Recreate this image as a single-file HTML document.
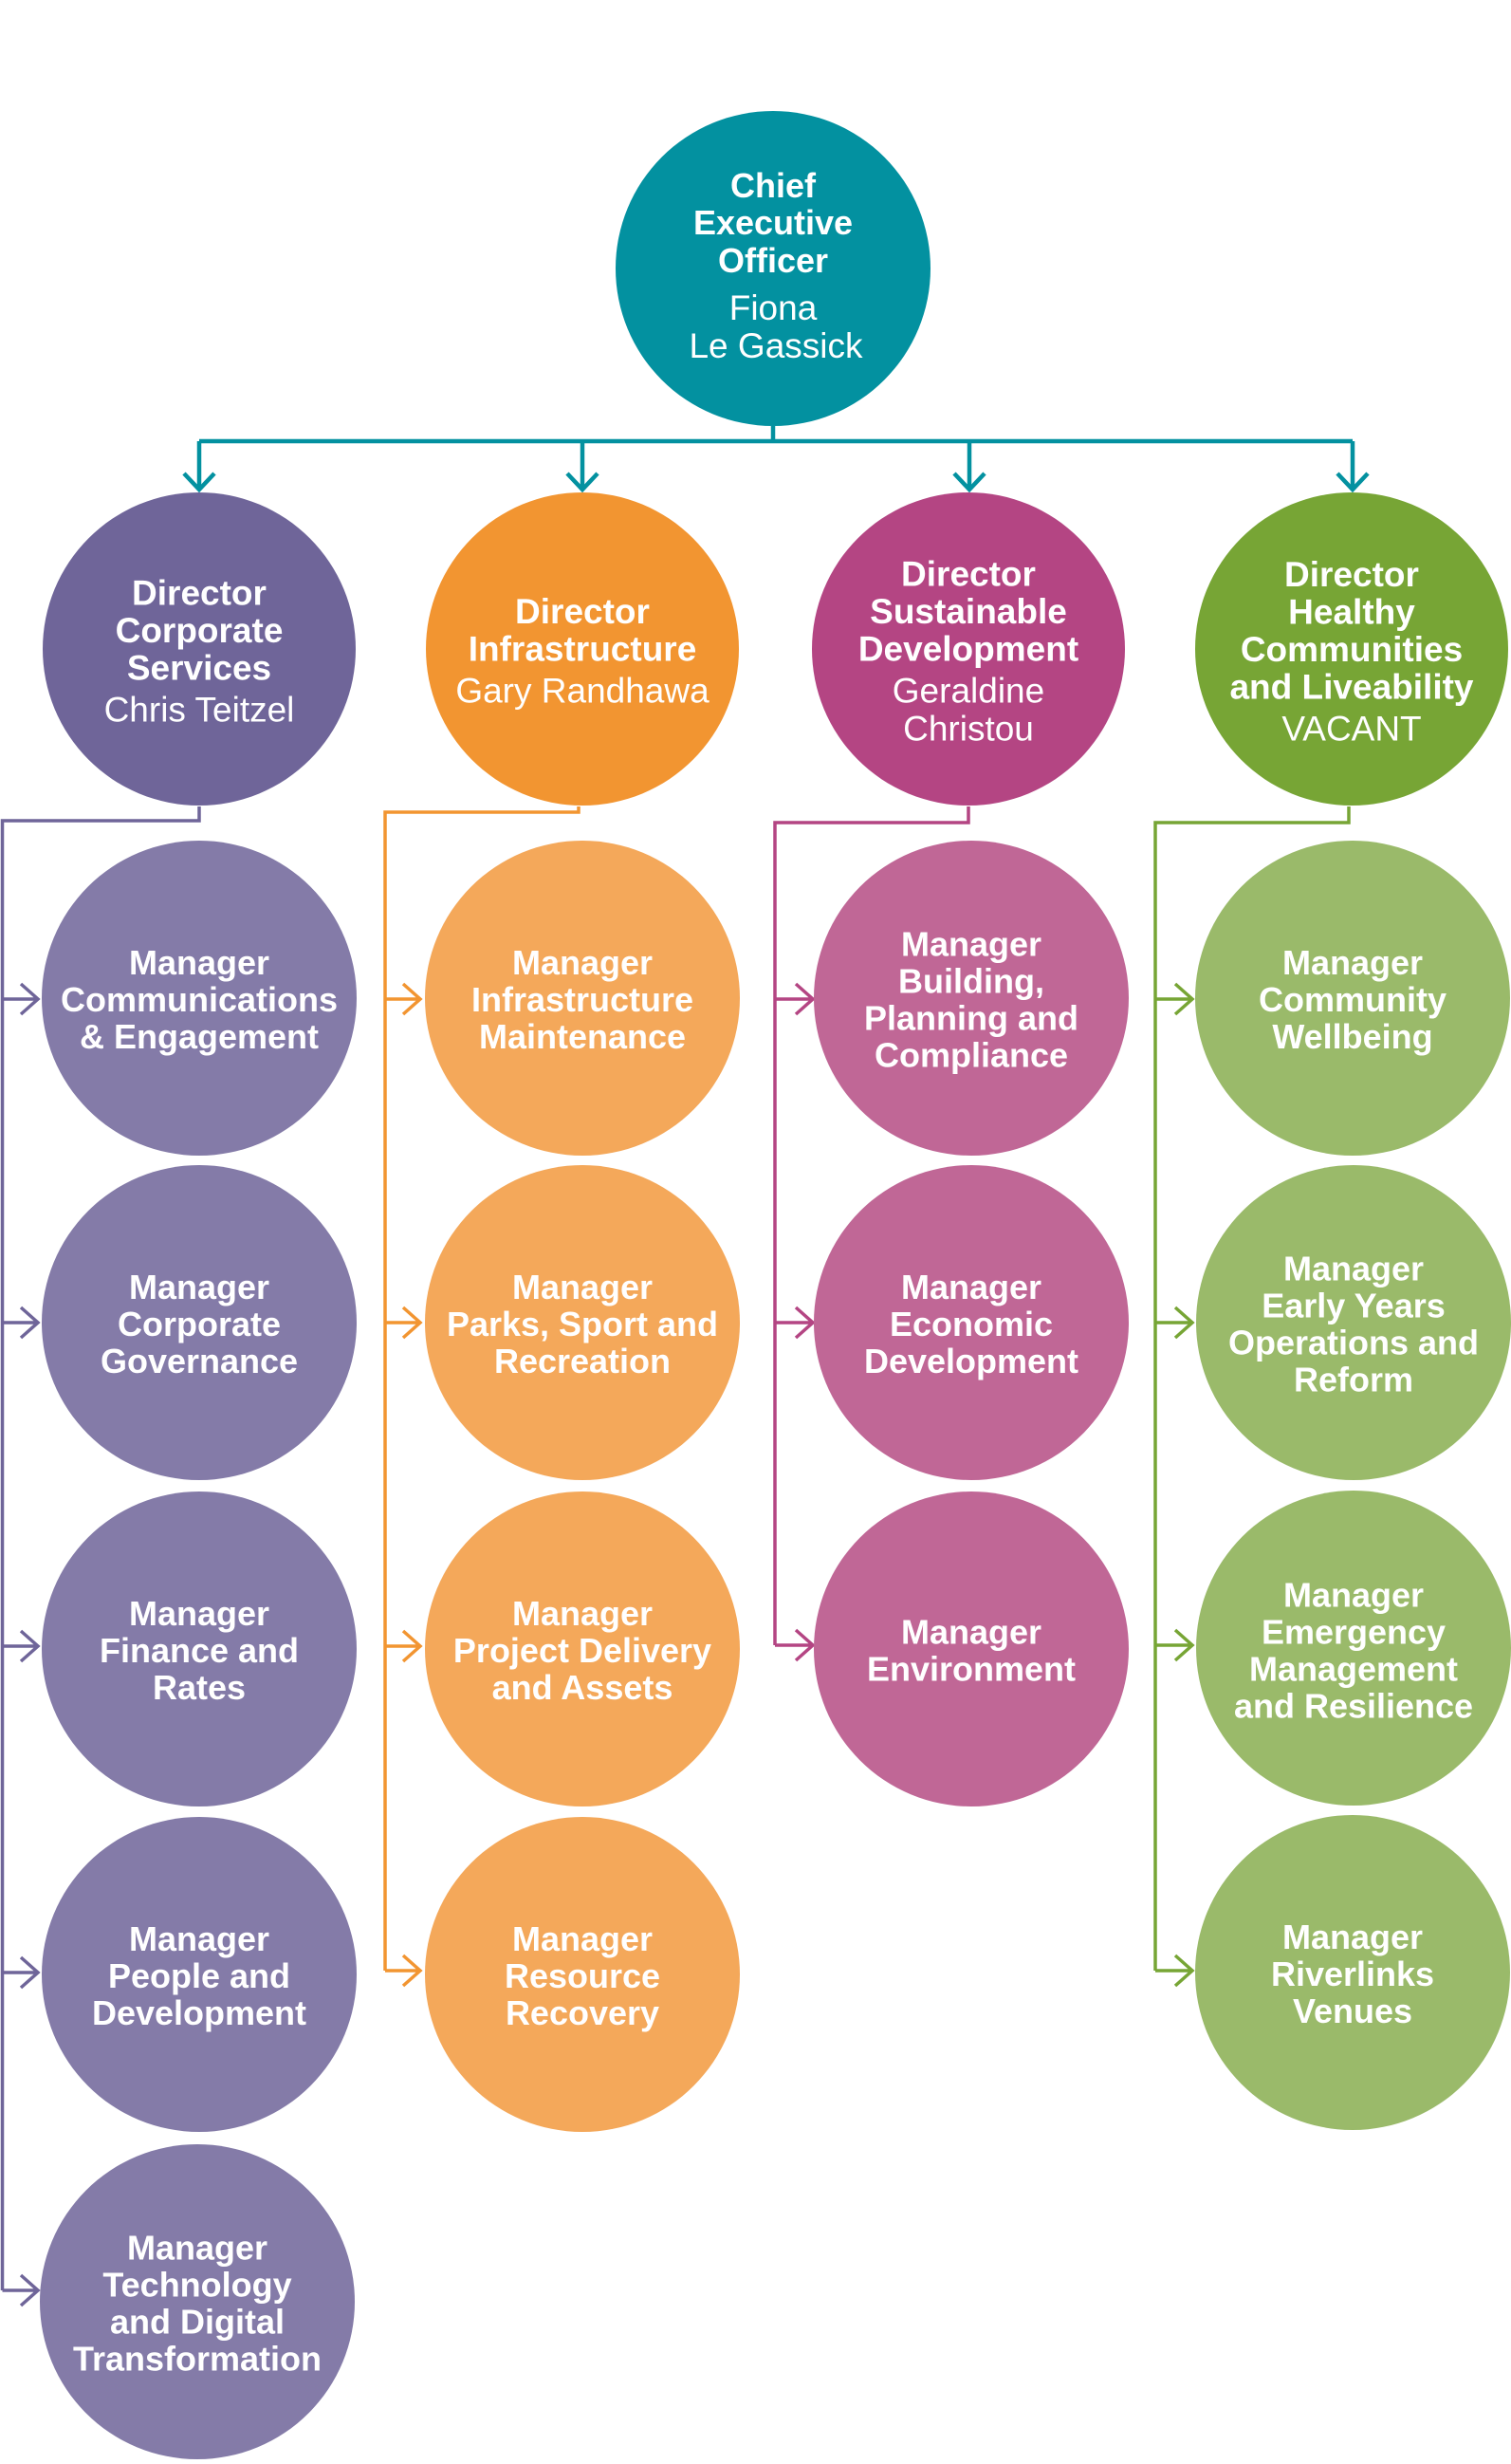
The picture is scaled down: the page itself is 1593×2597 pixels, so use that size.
<!DOCTYPE html>
<html>
<head>
<meta charset="utf-8">
<style>
html,body{margin:0;padding:0;background:#fff;}
svg{display:block;}
text{font-family:"Liberation Sans",Arial,sans-serif;fill:#fff;text-anchor:middle;}
.b{font-weight:bold;font-size:36px;}
.d{font-weight:bold;font-size:37px;}
.l{font-weight:normal;font-size:37px;}
</style>
</head>
<body>
<svg width="1593" height="2597" viewBox="0 0 1593 2597" xmlns="http://www.w3.org/2000/svg">
<rect width="1593" height="2597" fill="#fff"/>

<!-- Teal connectors -->
<g fill="none" stroke="#0391A0" stroke-width="4.5">
  <path d="M815 449 V465"/>
  <path d="M210 465 H1426"/>
  <path d="M210 465 V516 M614 465 V516 M1022 465 V516 M1426 465 V516"/>
  <path d="M194 499 L210 516 L226 499"/>
  <path d="M598 499 L614 516 L630 499"/>
  <path d="M1006 499 L1022 516 L1038 499"/>
  <path d="M1410 499 L1426 516 L1442 499"/>
</g>

<!-- Purple connectors -->
<g fill="none" stroke="#6F6599" stroke-width="3.5">
  <path d="M210 850 V865 H2.5 V2414"/>
  <path d="M2.5 1053 H40 M22 1037 L40 1053 L22 1069"/>
  <path d="M2.5 1394 H40 M22 1378 L40 1394 L22 1410"/>
  <path d="M2.5 1735 H40 M22 1719 L40 1735 L22 1751"/>
  <path d="M2.5 2079 H40 M22 2063 L40 2079 L22 2095"/>
  <path d="M2.5 2414 H40 M22 2398 L40 2414 L22 2430"/>
</g>

<!-- Orange connectors -->
<g fill="none" stroke="#F29531" stroke-width="3.5">
  <path d="M610 850 V856 H406 V2077"/>
  <path d="M406 1053 H443 M425 1037 L443 1053 L425 1069"/>
  <path d="M406 1394 H443 M425 1378 L443 1394 L425 1410"/>
  <path d="M406 1735 H443 M425 1719 L443 1735 L425 1751"/>
  <path d="M406 2077 H443 M425 2061 L443 2077 L425 2093"/>
</g>

<!-- Magenta connectors -->
<g fill="none" stroke="#B44583" stroke-width="3.5">
  <path d="M1021 850 V867 H817 V1734"/>
  <path d="M817 1053 H857 M839 1037 L857 1053 L839 1069"/>
  <path d="M817 1394 H857 M839 1378 L857 1394 L839 1410"/>
  <path d="M817 1734 H857 M839 1718 L857 1734 L839 1750"/>
</g>

<!-- Green connectors -->
<g fill="none" stroke="#77A535" stroke-width="3.5">
  <path d="M1422 850 V867 H1218 V2077"/>
  <path d="M1218 1053 H1257 M1239 1037 L1257 1053 L1239 1069"/>
  <path d="M1218 1394 H1257 M1239 1378 L1257 1394 L1239 1410"/>
  <path d="M1218 1734 H1257 M1239 1718 L1257 1734 L1239 1750"/>
  <path d="M1218 2077 H1257 M1239 2061 L1257 2077 L1239 2093"/>
</g>

<!-- CEO -->
<circle cx="815" cy="283" r="166" fill="#0391A0"/>
<text class="b" x="815" y="208">Chief</text>
<text class="b" x="815" y="247">Executive</text>
<text class="b" x="815" y="287">Officer</text>
<text class="l" x="815" y="337">Fiona</text>
<text class="l" x="818" y="377">Le Gassick</text>

<!-- Directors -->
<circle cx="210" cy="684" r="165" fill="#6F6599"/>
<text class="d" x="210" y="637.5">Director</text>
<text class="d" x="210" y="677">Corporate</text>
<text class="d" x="210" y="716.5">Services</text>
<text class="l" x="210" y="760.5">Chris Teitzel</text>

<circle cx="614" cy="684" r="165" fill="#F29531"/>
<text class="d" x="614" y="657">Director</text>
<text class="d" x="614" y="696.5">Infrastructure</text>
<text class="l" x="614" y="740.5">Gary Randhawa</text>

<circle cx="1021" cy="684" r="165" fill="#B44583"/>
<text class="d" x="1021" y="617.5">Director</text>
<text class="d" x="1021" y="657">Sustainable</text>
<text class="d" x="1021" y="696.5">Development</text>
<text class="l" x="1021" y="740.5">Geraldine</text>
<text class="l" x="1021" y="780.5">Christou</text>

<circle cx="1425" cy="684" r="165" fill="#77A535"/>
<text class="d" x="1425" y="618">Director</text>
<text class="d" x="1425" y="657.5">Healthy</text>
<text class="d" x="1425" y="697">Communities</text>
<text class="d" x="1425" y="736.5">and Liveability</text>
<text class="l" x="1425" y="780.5">VACANT</text>

<!-- Purple managers -->
<circle cx="210" cy="1052" r="166" fill="#847BA8"/>
<text class="b" x="210" y="1027">Manager</text>
<text class="b" x="210" y="1066">Communications</text>
<text class="b" x="210" y="1105">&amp; Engagement</text>

<circle cx="210" cy="1394" r="166" fill="#847BA8"/>
<text class="b" x="210" y="1369">Manager</text>
<text class="b" x="210" y="1408">Corporate</text>
<text class="b" x="210" y="1447">Governance</text>

<circle cx="210" cy="1738" r="166" fill="#847BA8"/>
<text class="b" x="210" y="1713">Manager</text>
<text class="b" x="210" y="1752">Finance and</text>
<text class="b" x="210" y="1791">Rates</text>

<circle cx="210" cy="2081" r="166" fill="#847BA8"/>
<text class="b" x="210" y="2056">Manager</text>
<text class="b" x="210" y="2095">People and</text>
<text class="b" x="210" y="2134">Development</text>

<circle cx="208" cy="2426" r="166" fill="#847BA8"/>
<text class="b" x="208" y="2381.5">Manager</text>
<text class="b" x="208" y="2420.5">Technology</text>
<text class="b" x="208" y="2459.5">and Digital</text>
<text class="b" x="208" y="2498.5">Transformation</text>

<!-- Orange managers -->
<circle cx="614" cy="1052" r="166" fill="#F4A85A"/>
<text class="b" x="614" y="1027">Manager</text>
<text class="b" x="614" y="1066">Infrastructure</text>
<text class="b" x="614" y="1105">Maintenance</text>

<circle cx="614" cy="1394" r="166" fill="#F4A85A"/>
<text class="b" x="614" y="1369">Manager</text>
<text class="b" x="614" y="1408">Parks, Sport and</text>
<text class="b" x="614" y="1447">Recreation</text>

<circle cx="614" cy="1738" r="166" fill="#F4A85A"/>
<text class="b" x="614" y="1713">Manager</text>
<text class="b" x="614" y="1752">Project Delivery</text>
<text class="b" x="614" y="1791">and Assets</text>

<circle cx="614" cy="2081" r="166" fill="#F4A85A"/>
<text class="b" x="614" y="2056">Manager</text>
<text class="b" x="614" y="2095">Resource</text>
<text class="b" x="614" y="2134">Recovery</text>

<!-- Magenta managers -->
<circle cx="1024" cy="1052" r="166" fill="#C06796"/>
<text class="b" x="1024" y="1007.5">Manager</text>
<text class="b" x="1024" y="1046.5">Building,</text>
<text class="b" x="1024" y="1085.5">Planning and</text>
<text class="b" x="1024" y="1124.5">Compliance</text>

<circle cx="1024" cy="1394" r="166" fill="#C06796"/>
<text class="b" x="1024" y="1369">Manager</text>
<text class="b" x="1024" y="1408">Economic</text>
<text class="b" x="1024" y="1447">Development</text>

<circle cx="1024" cy="1738" r="166" fill="#C06796"/>
<text class="b" x="1024" y="1732.5">Manager</text>
<text class="b" x="1024" y="1771.5">Environment</text>

<!-- Green managers -->
<circle cx="1426" cy="1052" r="166" fill="#9ABA6A"/>
<text class="b" x="1426" y="1027">Manager</text>
<text class="b" x="1426" y="1066">Community</text>
<text class="b" x="1426" y="1105">Wellbeing</text>

<circle cx="1427" cy="1394" r="166" fill="#9ABA6A"/>
<text class="b" x="1427" y="1349.5">Manager</text>
<text class="b" x="1427" y="1388.5">Early Years</text>
<text class="b" x="1427" y="1427.5">Operations and</text>
<text class="b" x="1427" y="1466.5">Reform</text>

<circle cx="1427" cy="1737" r="166" fill="#9ABA6A"/>
<text class="b" x="1427" y="1693.5">Manager</text>
<text class="b" x="1427" y="1732.5">Emergency</text>
<text class="b" x="1427" y="1771.5">Management</text>
<text class="b" x="1427" y="1810.5">and Resilience</text>

<circle cx="1426" cy="2079" r="166" fill="#9ABA6A"/>
<text class="b" x="1426" y="2054">Manager</text>
<text class="b" x="1426" y="2093">Riverlinks</text>
<text class="b" x="1426" y="2132">Venues</text>
</svg>
</body>
</html>
